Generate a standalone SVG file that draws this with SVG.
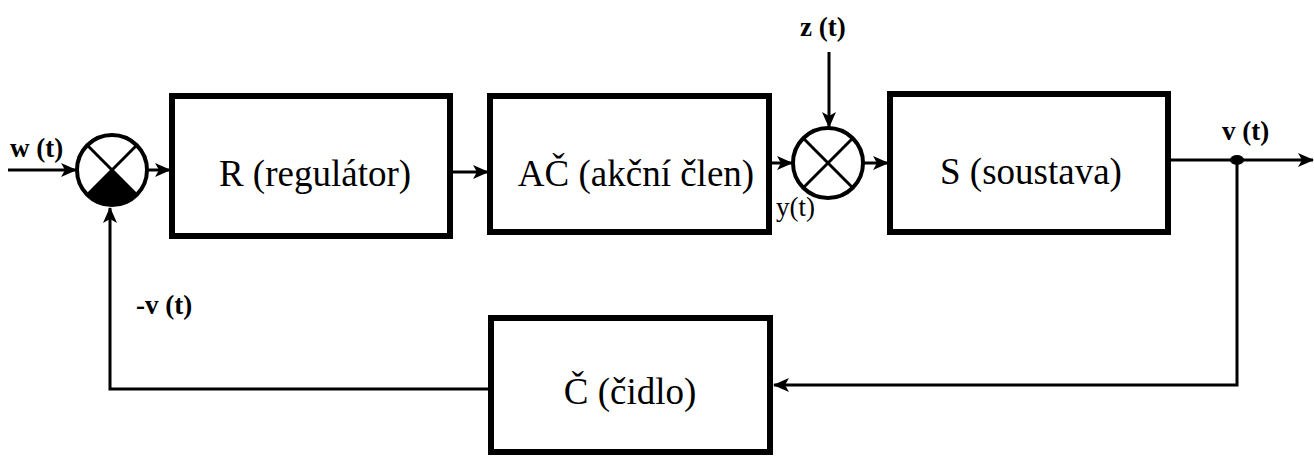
<svg xmlns="http://www.w3.org/2000/svg" width="1314" height="457" viewBox="0 0 1314 457">
<style>
.box{fill:#fff;stroke:#000;stroke-width:6}
.ln{fill:none;stroke:#000;stroke-width:3}
.sum{fill:#fff;stroke:#000;stroke-width:4}
text{font-family:"Liberation Serif","Times New Roman","DejaVu Serif",serif;fill:#000}
.main{font-size:37px;text-anchor:middle}
.lbl{font-size:27px;font-weight:bold}
</style>
<defs>
<marker id="ah" markerUnits="userSpaceOnUse" markerWidth="16" markerHeight="14" refX="15" refY="7" orient="auto">
<path d="M0,0 L16,7 L0,14 L4,7 z" fill="#000"/>
</marker>
</defs>
<rect width="1314" height="457" fill="#fff"/>
<g id="connectors">
<line class="ln" x1="8" y1="170" x2="76" y2="170" marker-end="url(#ah)"/>
<line class="ln" x1="148" y1="170" x2="170" y2="170" marker-end="url(#ah)"/>
<line class="ln" x1="453" y1="172" x2="488" y2="172" marker-end="url(#ah)"/>
<line class="ln" x1="772" y1="163" x2="792" y2="163" marker-end="url(#ah)"/>
<line class="ln" x1="864" y1="163" x2="888" y2="163" marker-end="url(#ah)"/>
<line class="ln" x1="829" y1="52" x2="829" y2="127" marker-end="url(#ah)"/>
<line class="ln" x1="1170" y1="160" x2="1313" y2="160" marker-end="url(#ah)"/>
<polyline class="ln" points="1237,160 1237,385 774,385" marker-end="url(#ah)"/>
<polyline class="ln" points="488,389 110,389 110,208" marker-end="url(#ah)"/>
<ellipse cx="1237" cy="160" rx="7" ry="5" fill="#000"/>
</g>
<g id="sum1">
<circle class="sum" cx="112" cy="170" r="35"/>
<path d="M112,170 L136.7,194.7 A35,35 0 0 1 87.3,194.7 Z" fill="#000"/>
<line class="ln" x1="87.3" y1="145.3" x2="136.7" y2="194.7"/>
<line class="ln" x1="136.7" y1="145.3" x2="87.3" y2="194.7"/>
</g>
<g id="R">
<rect class="box" x="172" y="96" width="278" height="140"/>
<text class="main" x="315" y="186">R (regulátor)</text>
</g>
<g id="AC">
<rect class="box" x="490" y="96" width="279" height="136"/>
<text class="main" x="636" y="186">AČ (akční člen)</text>
</g>
<g id="sum2">
<circle class="sum" cx="828" cy="163" r="35"/>
<line class="ln" x1="803.3" y1="138.3" x2="852.7" y2="187.7"/>
<line class="ln" x1="852.7" y1="138.3" x2="803.3" y2="187.7"/>
</g>
<g id="S">
<rect class="box" x="890" y="94" width="278" height="138"/>
<text class="main" x="1031" y="184">S (soustava)</text>
</g>
<g id="C">
<rect class="box" x="491" y="318" width="279" height="134"/>
<text class="main" x="630" y="404">Č (čidlo)</text>
</g>
<g id="labels">
<text class="lbl" x="10" y="157">w (t)</text>
<text class="lbl" x="800" y="36">z (t)</text>
<text class="lbl" x="1222" y="140">v (t)</text>
<text class="lbl" x="136" y="314">-v (t)</text>
<text x="776" y="216" font-size="27">y(t)</text>
</g>
</svg>
